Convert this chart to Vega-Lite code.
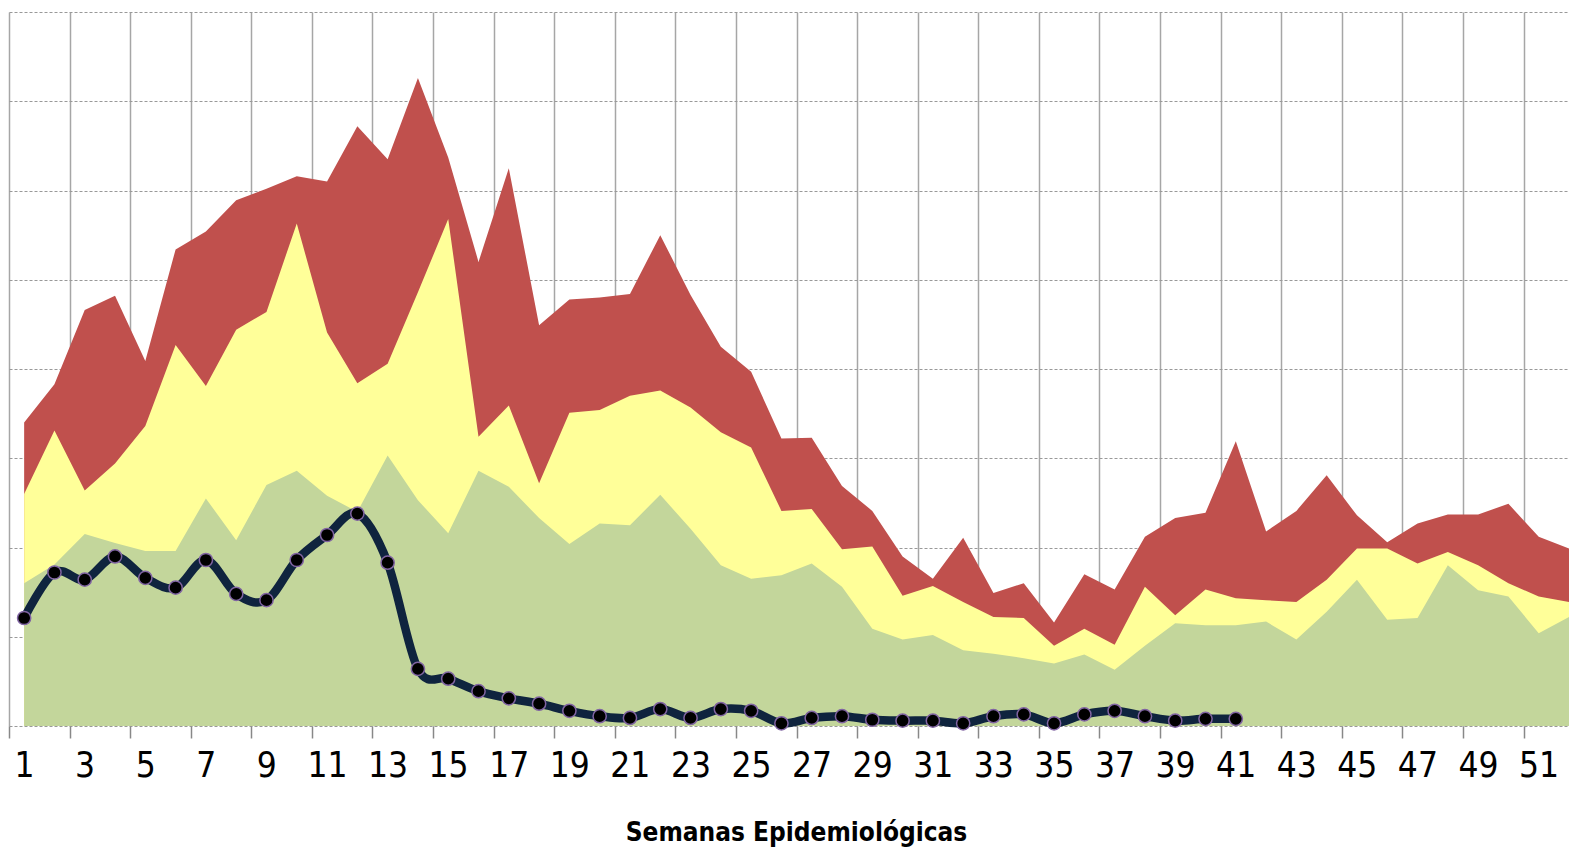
{
  "$schema": "https://vega.github.io/schema/vega-lite/v6.json",
  "width": 1560,
  "height": 714,
  "autosize": {"type": "none"},
  "padding": {"left": 9, "top": 12, "right": 0, "bottom": 125},
  "background": "white",
  "config": {
    "view": {"stroke": null},
    "axisY": {"labels": false, "ticks": false, "domain": false, "grid": true, "gridDash": [3, 2], "gridColor": "#999999", "gridWidth": 1}
  },
  "data": {
    "values": [
      {"semana": 1, "exito": 16.0, "seguridad": 26.0, "alerta": 34.0, "casos": 12.1},
      {"semana": 2, "exito": 18.1, "seguridad": 33.1, "alerta": 38.3, "casos": 17.2},
      {"semana": 3, "exito": 21.5, "seguridad": 26.4, "alerta": 46.6, "casos": 16.4},
      {"semana": 4, "exito": 20.5, "seguridad": 29.4, "alerta": 48.2, "casos": 19.0},
      {"semana": 5, "exito": 19.6, "seguridad": 33.6, "alerta": 40.9, "casos": 16.6},
      {"semana": 6, "exito": 19.6, "seguridad": 42.7, "alerta": 53.4, "casos": 15.5},
      {"semana": 7, "exito": 25.5, "seguridad": 38.1, "alerta": 55.4, "casos": 18.6},
      {"semana": 8, "exito": 20.8, "seguridad": 44.4, "alerta": 58.9, "casos": 14.8},
      {"semana": 9, "exito": 27.0, "seguridad": 46.4, "alerta": 60.2, "casos": 14.1},
      {"semana": 10, "exito": 28.6, "seguridad": 56.3, "alerta": 61.6, "casos": 18.6},
      {"semana": 11, "exito": 25.8, "seguridad": 44.1, "alerta": 61.0, "casos": 21.4},
      {"semana": 12, "exito": 24.0, "seguridad": 38.4, "alerta": 67.2, "casos": 23.8},
      {"semana": 13, "exito": 30.3, "seguridad": 40.6, "alerta": 63.5, "casos": 18.3},
      {"semana": 14, "exito": 25.3, "seguridad": 48.6, "alerta": 72.6, "casos": 6.4},
      {"semana": 15, "exito": 21.6, "seguridad": 56.8, "alerta": 63.7, "casos": 5.3},
      {"semana": 16, "exito": 28.6, "seguridad": 32.4, "alerta": 52.0, "casos": 3.9},
      {"semana": 17, "exito": 26.8, "seguridad": 35.9, "alerta": 62.5, "casos": 3.1},
      {"semana": 18, "exito": 23.3, "seguridad": 27.2, "alerta": 44.9, "casos": 2.5},
      {"semana": 19, "exito": 20.4, "seguridad": 35.1, "alerta": 47.8, "casos": 1.7},
      {"semana": 20, "exito": 22.7, "seguridad": 35.4, "alerta": 48.0, "casos": 1.1},
      {"semana": 21, "exito": 22.5, "seguridad": 37.0, "alerta": 48.4, "casos": 0.9},
      {"semana": 22, "exito": 25.9, "seguridad": 37.6, "alerta": 55.0, "casos": 1.9},
      {"semana": 23, "exito": 22.1, "seguridad": 35.7, "alerta": 48.3, "casos": 0.9},
      {"semana": 24, "exito": 18.0, "seguridad": 32.9, "alerta": 42.5, "casos": 1.9},
      {"semana": 25, "exito": 16.5, "seguridad": 31.2, "alerta": 39.7, "casos": 1.7},
      {"semana": 26, "exito": 16.9, "seguridad": 24.1, "alerta": 32.2, "casos": 0.3},
      {"semana": 27, "exito": 18.2, "seguridad": 24.3, "alerta": 32.3, "casos": 0.9},
      {"semana": 28, "exito": 15.6, "seguridad": 19.8, "alerta": 26.9, "casos": 1.1},
      {"semana": 29, "exito": 10.9, "seguridad": 20.1, "alerta": 24.1, "casos": 0.7},
      {"semana": 30, "exito": 9.7, "seguridad": 14.6, "alerta": 19.0, "casos": 0.6},
      {"semana": 31, "exito": 10.2, "seguridad": 15.7, "alerta": 16.5, "casos": 0.6},
      {"semana": 32, "exito": 8.5, "seguridad": 13.9, "alerta": 21.1, "casos": 0.3},
      {"semana": 33, "exito": 8.1, "seguridad": 12.2, "alerta": 14.9, "casos": 1.1},
      {"semana": 34, "exito": 7.6, "seguridad": 12.1, "alerta": 16.0, "casos": 1.3},
      {"semana": 35, "exito": 7.0, "seguridad": 9.0, "alerta": 11.6, "casos": 0.3},
      {"semana": 36, "exito": 8.0, "seguridad": 10.9, "alerta": 17.0, "casos": 1.3},
      {"semana": 37, "exito": 6.3, "seguridad": 9.1, "alerta": 15.3, "casos": 1.7},
      {"semana": 38, "exito": 9.0, "seguridad": 15.6, "alerta": 21.2, "casos": 1.1},
      {"semana": 39, "exito": 11.5, "seguridad": 12.4, "alerta": 23.3, "casos": 0.6},
      {"semana": 40, "exito": 11.3, "seguridad": 15.3, "alerta": 23.9, "casos": 0.8},
      {"semana": 41, "exito": 11.3, "seguridad": 14.3, "alerta": 31.9, "casos": 0.8},
      {"semana": 42, "exito": 11.7, "seguridad": 14.1, "alerta": 21.8, "casos": null},
      {"semana": 43, "exito": 9.7, "seguridad": 13.9, "alerta": 24.1, "casos": null},
      {"semana": 44, "exito": 12.8, "seguridad": 16.4, "alerta": 28.1, "casos": null},
      {"semana": 45, "exito": 16.4, "seguridad": 19.9, "alerta": 23.6, "casos": null},
      {"semana": 46, "exito": 11.9, "seguridad": 19.9, "alerta": 20.6, "casos": null},
      {"semana": 47, "exito": 12.1, "seguridad": 18.2, "alerta": 22.7, "casos": null},
      {"semana": 48, "exito": 18.0, "seguridad": 19.5, "alerta": 23.7, "casos": null},
      {"semana": 49, "exito": 15.2, "seguridad": 18.0, "alerta": 23.7, "casos": null},
      {"semana": 50, "exito": 14.5, "seguridad": 16.0, "alerta": 24.9, "casos": null},
      {"semana": 51, "exito": 10.4, "seguridad": 14.5, "alerta": 21.2, "casos": null},
      {"semana": 52, "exito": 12.2, "seguridad": 13.9, "alerta": 19.9, "casos": null}
    ]
  },
  "encoding": {
    "x": {
      "field": "semana",
      "type": "quantitative",
      "scale": {"domain": [0.5, 52], "nice": false, "zero": false},
      "axis": {
        "values": [0.5, 2.5, 4.5, 6.5, 8.5, 10.5, 12.5, 14.5, 16.5, 18.5, 20.5, 22.5, 24.5, 26.5, 28.5, 30.5, 32.5, 34.5, 36.5, 38.5, 40.5, 42.5, 44.5, 46.5, 48.5, 50.5],
        "labelExpr": "format(datum.value + 0.5, 'd')",
        "labelOffset": 15,
        "labelOverlap": false,
        "labelFlush": false,
        "labelBound": false,
        "labelFont": "'DejaVu Sans Condensed', 'Liberation Sans Narrow', 'Liberation Sans', sans-serif",
        "labelFontSize": 35,
        "labelColor": "#000000",
        "labelPadding": 10,
        "tickSize": 12,
        "tickColor": "#888888",
        "tickWidth": 1.5,
        "domain": false,
        "grid": true,
        "gridColor": "#a6a6a6",
        "gridWidth": 1.5,
        "title": "Semanas Epidemiológicas",
        "titleFont": "'DejaVu Sans Condensed', 'Liberation Sans Narrow', 'Liberation Sans', sans-serif",
        "titleFontSize": 26,
        "titleFontWeight": "bold",
        "titleColor": "#000000",
        "titleBaseline": "alphabetic",
        "titleX": 787,
        "titleY": 114
      }
    }
  },
  "layer": [
    {
      "mark": {"type": "area", "color": "#C0504D", "interpolate": "linear"},
      "encoding": {
        "y": {"field": "alerta", "type": "quantitative", "scale": {"domain": [0, 80], "nice": false}, "axis": {"title": null, "values": [0, 10, 20, 30, 40, 50, 60, 70, 80]}}
      }
    },
    {
      "mark": {"type": "area", "color": "#FFFF99", "interpolate": "linear"},
      "encoding": {
        "y": {"field": "seguridad", "type": "quantitative", "axis": {"title": null}}
      }
    },
    {
      "mark": {"type": "area", "color": "#C3D69B", "interpolate": "linear"},
      "encoding": {
        "y": {"field": "exito", "type": "quantitative", "axis": {"title": null}}
      }
    },
    {
      "mark": {"type": "rule", "color": "#888888", "strokeWidth": 2},
      "encoding": {
        "y": {"datum": 0, "type": "quantitative", "axis": {"title": null}}
      }
    },
    {
      "mark": {"type": "line", "color": "#0F243E", "strokeWidth": 8.5, "interpolate": "cardinal", "strokeJoin": "round", "strokeCap": "round"},
      "encoding": {
        "y": {"field": "casos", "type": "quantitative", "axis": {"title": null}}
      }
    },
    {
      "mark": {"type": "point", "shape": "circle", "filled": true, "fill": "#000000", "stroke": "#8064A2", "strokeWidth": 1.5, "size": 175, "opacity": 1},
      "encoding": {
        "y": {"field": "casos", "type": "quantitative", "axis": {"title": null}}
      }
    }
  ]
}
